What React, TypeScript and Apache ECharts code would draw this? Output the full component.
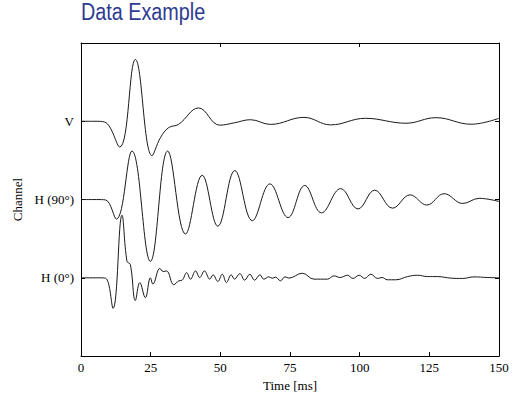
import React, { useEffect, useRef } from "react";
import * as echarts from "echarts";

// Time axis ticks (ms)
const timeTicks = [0, 25, 50, 75, 100, 125, 150];
const channelNames = ["H (0°)", "H (90°)", "V"];
const channelBase = [1, 2, 3];

// Traces: [time ms, amplitude in channel-spacing units] (mostly turning points)
const traceV: number[][] = [
  [0, 0], [5, 0], [8.5, -0.01], [13.9, -0.33], [19.5, 0.79], [25.5, -0.44], [28.5, -0.21],
  [31.5, -0.08], [35, -0.04], [42.2, 0.17], [49.8, -0.05], [55, -0.02], [60.8, 0.02], [68, -0.04],
  [80, 0.05], [89.6, -0.046], [102, 0.038], [116.6, -0.025], [127.4, 0.046], [140, -0.038], [150, 0.038],
];

const traceH90: number[][] = [
  [0, 0], [5.5, 0], [8.8, -0.005], [12.7, -0.25], [18.3, 0.62], [24.9, -0.79], [31.1, 0.62],
  [37.5, -0.44], [43.5, 0.31], [49.1, -0.34], [55.2, 0.37], [61.5, -0.27], [67.8, 0.2],
  [74.3, -0.23], [80.3, 0.18], [86.3, -0.17], [93.2, 0.14], [99.4, -0.12], [105.4, 0.12],
  [111.8, -0.11], [118.1, 0.06], [124.1, -0.07], [130.3, 0.075], [137, -0.05], [142.9, 0.016],
  [150, -0.025],
];

const traceH0: number[][] = [
  [0, 0], [6, 0], [8.8, -0.005], [11.5, -0.39], [14.7, 0.8], [16.5, 0.21], [17.7, 0.17],
  [19.5, -0.29], [21.1, -0.06], [23.1, -0.255], [24.9, 0], [25.8, -0.08], [28.3, 0.12],
  [29.5, 0.08], [30.7, 0.088], [33.3, -0.088], [35.1, -0.038], [36.3, -0.03], [37.9, 0.066],
  [39.3, -0.017], [41.1, 0.088], [42.6, 0.004], [44.3, 0.088], [46.2, -0.017], [47.4, 0.038],
  [49.1, -0.046], [50.7, 0.046], [52.2, -0.06], [53.9, 0.038], [55.1, -0.017], [57, 0.054],
  [58.7, -0.03], [60.6, 0.046], [62.3, -0.03], [64.2, 0.038], [65.6, -0.017], [67.4, 0.013],
  [68.6, -0.005], [69.8, 0.008], [71.6, -0.038], [73.2, 0.013], [74.6, -0.004], [79.4, 0.059],
  [83.6, -0.017], [88.4, -0.017], [90.8, 0.025], [93, 0.004], [95.6, 0.033], [97.6, -0.008],
  [99.8, 0.033], [101.8, -0.008], [104, 0.046], [106.4, -0.008], [108, 0.004], [110, -0.025],
  [113, -0.025], [117.2, 0.016], [120.8, 0.033], [124.4, 0.016], [128, 0.016], [132.7, -0.004],
  [137, -0.008], [141, 0.012], [145.8, 0.004], [150, 0],
];

const traces = [traceH0, traceH90, traceV];

export default function App() {
  const ref = useRef<HTMLDivElement>(null);
  useEffect(() => {
    if (!ref.current) return;
    const chart = echarts.init(ref.current, undefined, { renderer: "svg" });
    const serif = "'Liberation Serif', 'Times New Roman', serif";
    const labelMap: Record<number, string> = {};
    channelBase.forEach((b, i) => (labelMap[b] = channelNames[i]));
    const lineStyle = { color: "#000", width: 1 };
    chart.setOption({
      animation: false,
      backgroundColor: "#ffffff",
      graphic: [
        {
          type: "text",
          x: 81,
          y: 1,
          scaleX: 0.86,
          style: {
            text: "Data Example",
            font: "500 23px 'Liberation Sans', Arial, sans-serif",
            fill: "#2d3b91",
            verticalAlign: "top",
          },
        },
      ],
      grid: { left: 81, right: 25, top: 43, bottom: 36, containLabel: false },
      xAxis: [
        {
          type: "value",
          position: "bottom",
          min: 0,
          max: 150,
          interval: 25,
          name: "Time [ms]",
          nameLocation: "middle",
          nameGap: 16,
          nameTextStyle: { fontFamily: serif, fontSize: 13, color: "#000" },
          axisLine: { show: true, onZero: false, lineStyle },
          axisTick: { show: true, inside: true, length: 4, lineStyle: { color: "#000" } },
          axisLabel: {
            fontFamily: serif, fontSize: 13, color: "#000", margin: 5,
            formatter: (v: number) => (timeTicks.includes(v) ? String(v) : ""),
          },
          splitLine: { show: false },
        },
        {
          type: "value",
          position: "top",
          min: 0,
          max: 150,
          interval: 50,
          axisLine: { show: true, onZero: false, lineStyle },
          axisTick: { show: true, inside: true, length: 4, customValues: [50, 100], lineStyle: { color: "#000" } },
          axisLabel: { show: false },
          splitLine: { show: false },
        },
      ],
      yAxis: [
        {
          type: "value",
          position: "left",
          min: 0,
          max: 4,
          interval: 1,
          name: "Channel",
          nameLocation: "middle",
          nameGap: 57,
          nameRotate: 90,
          nameTextStyle: { fontFamily: serif, fontSize: 13, color: "#000" },
          axisLine: { show: true, onZero: false, lineStyle },
          axisTick: { show: true, inside: true, length: 4, customValues: channelBase, lineStyle: { color: "#000" } },
          axisLabel: {
            fontFamily: serif, fontSize: 13, color: "#000", margin: 7,
            customValues: channelBase,
            formatter: (v: number) => labelMap[v] ?? "",
          },
          splitLine: { show: false },
        },
        {
          type: "value",
          position: "right",
          min: 0,
          max: 4,
          interval: 1,
          axisLine: { show: true, onZero: false, lineStyle },
          axisTick: { show: true, inside: true, length: 4, customValues: channelBase, lineStyle: { color: "#000" } },
          axisLabel: { show: false },
          splitLine: { show: false },
        },
      ],
      series: traces.map((tr, i) => ({
        type: "line",
        name: channelNames[i],
        xAxisIndex: 0,
        yAxisIndex: 0,
        data: tr.map(([t, a]) => [t, a + channelBase[i]]),
        showSymbol: false,
        smooth: 0.4,
        lineStyle: { color: "#1a1a1a", width: 1 },
        silent: true,
      })),
    });
    return () => chart.dispose();
  }, []);
  return <div ref={ref} style={{ width: 524, height: 397, position: "absolute", left: 0, top: 0 }} />;
}
